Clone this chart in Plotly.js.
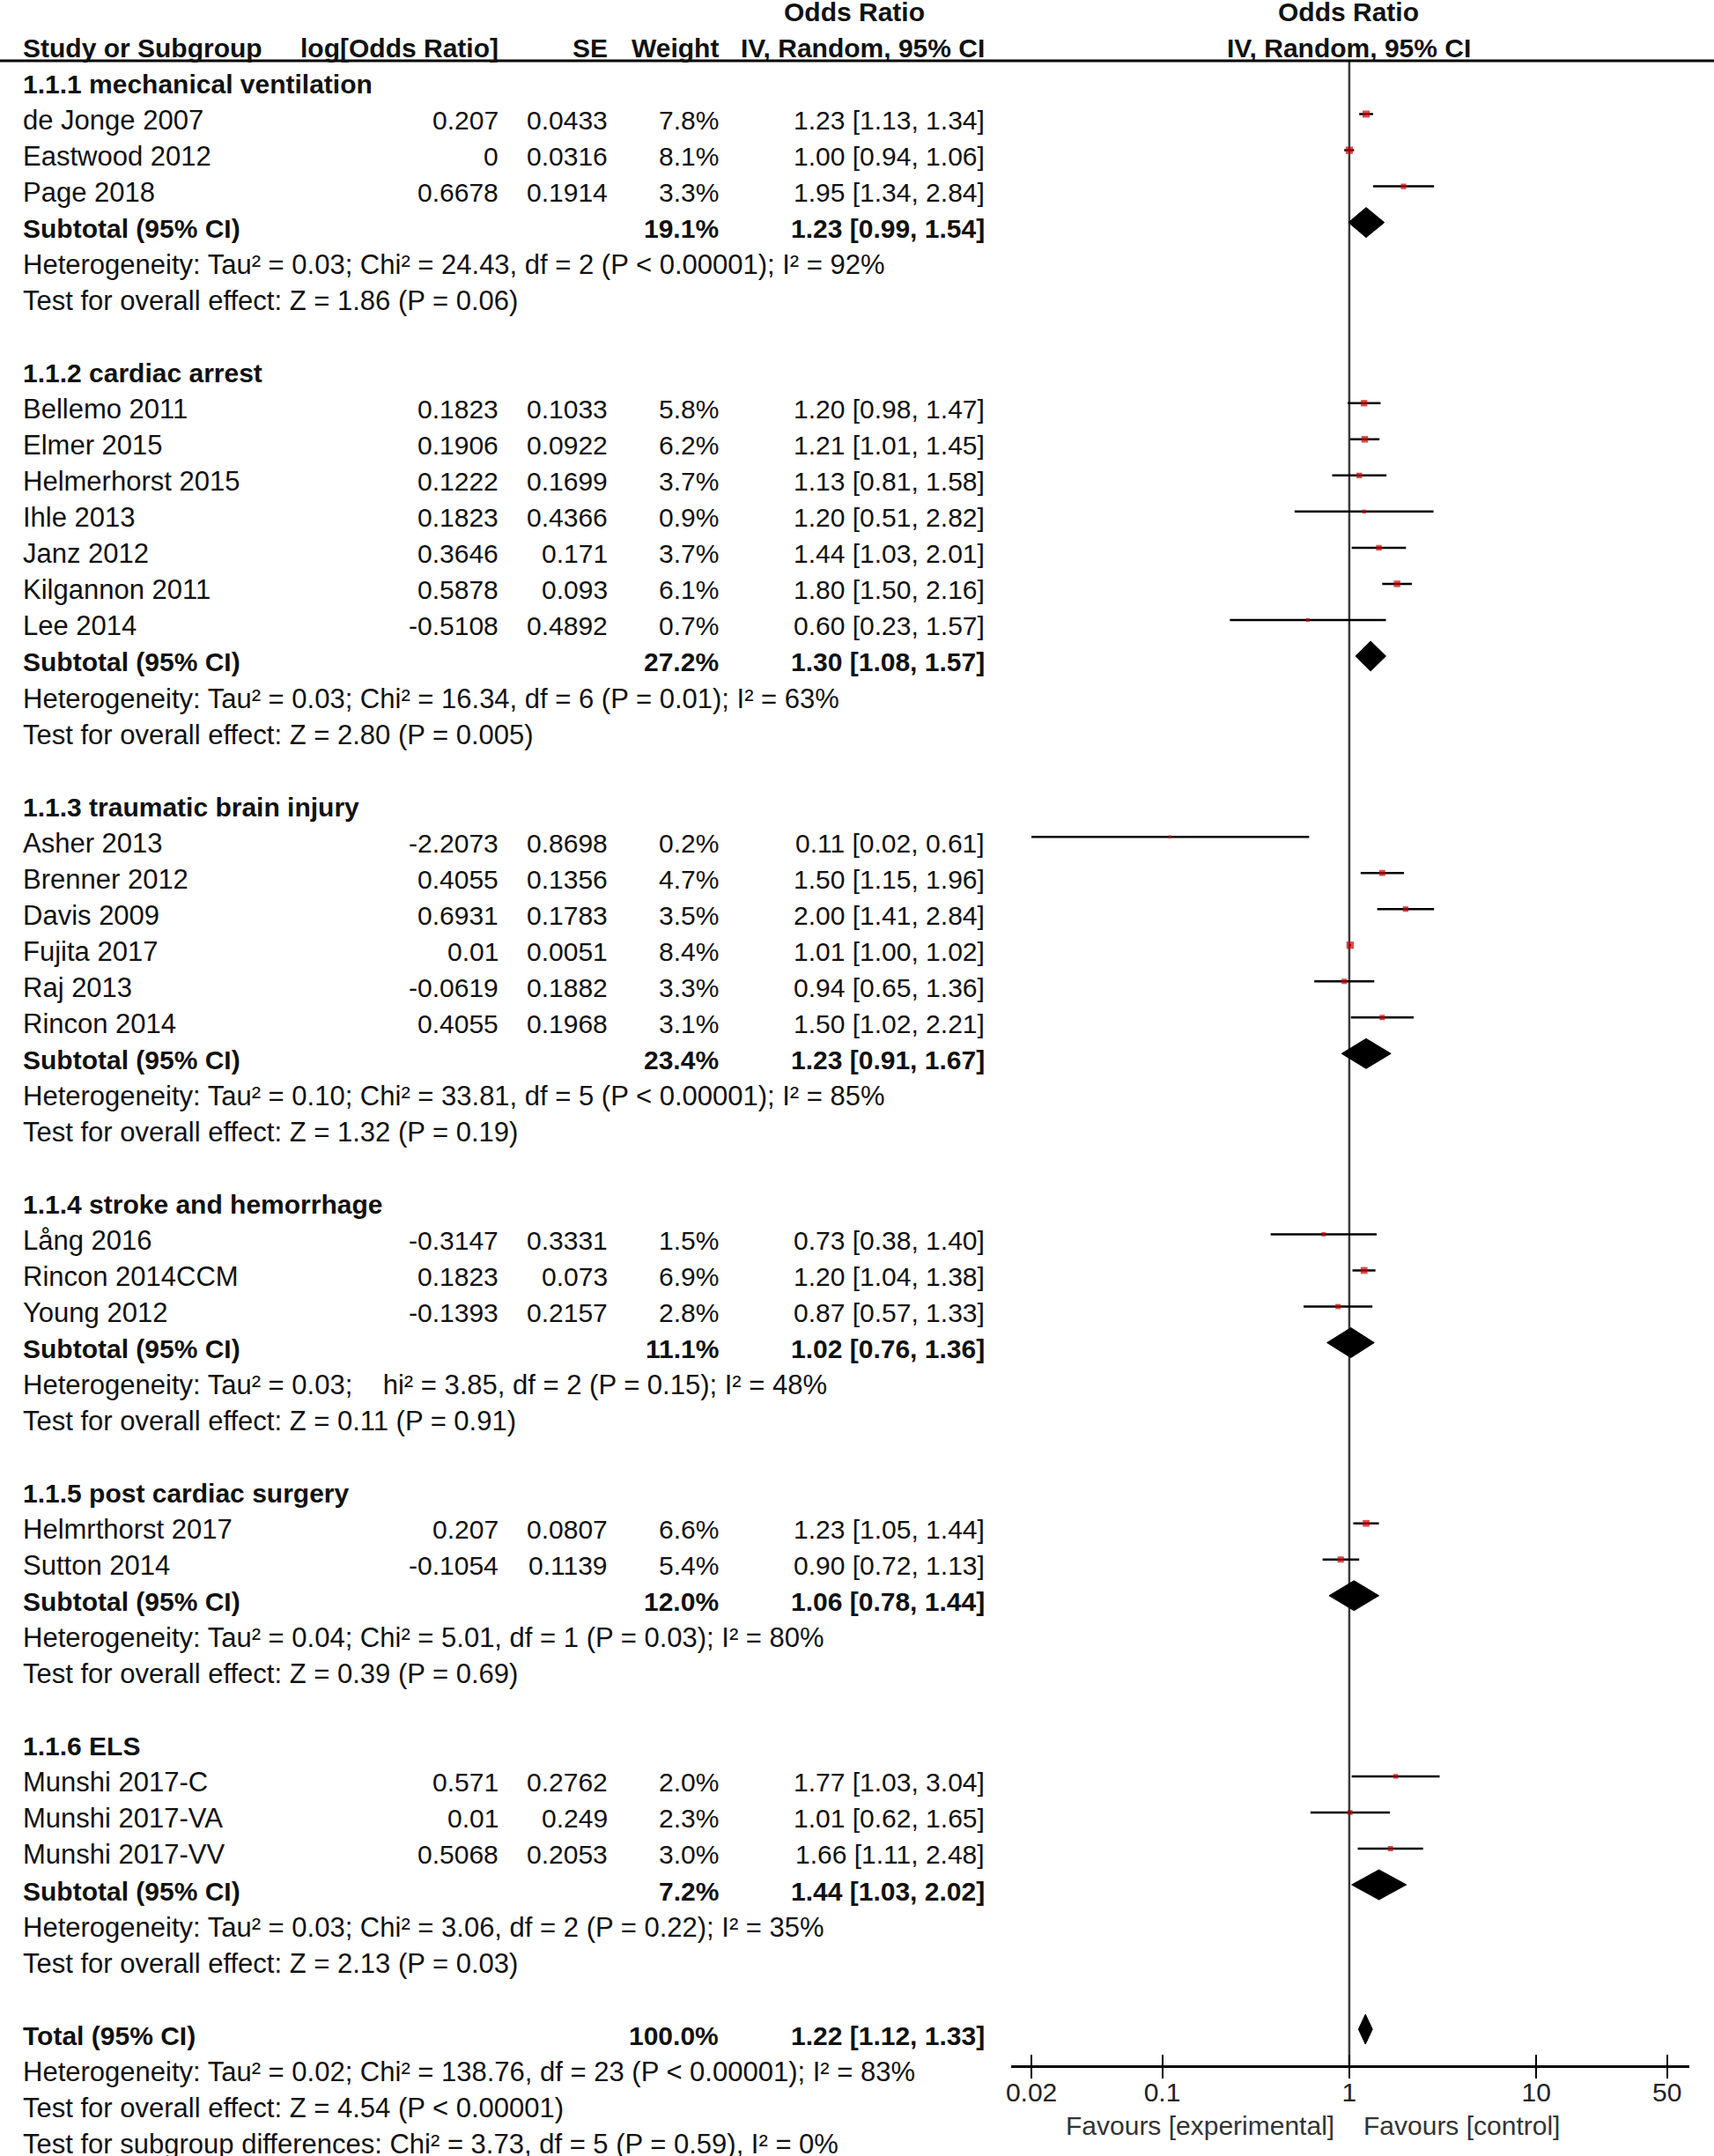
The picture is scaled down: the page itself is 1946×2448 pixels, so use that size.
<!DOCTYPE html>
<html>
<head>
<meta charset="utf-8">
<script src="https://cdn.plot.ly/plotly-3.0.1.min.js"></script>
<style>html,body{margin:0;padding:0;background:#fff;}#chart{width:1946px;height:2448px;}</style>
</head>
<body>
<div id="chart"></div>
<script>
// ---------------- DATA ----------------
const groupNames = ["1.1.1 mechanical ventilation", "1.1.2 cardiac arrest", "1.1.3 traumatic brain injury",
  "1.1.4 stroke and hemorrhage", "1.1.5 post cardiac surgery", "1.1.6 ELS"];

const studyNames = ["de Jonge 2007", "Eastwood 2012", "Page 2018",
  "Bellemo 2011", "Elmer 2015", "Helmerhorst 2015", "Ihle 2013", "Janz 2012", "Kilgannon 2011", "Lee 2014",
  "Asher 2013", "Brenner 2012", "Davis 2009", "Fujita 2017", "Raj 2013", "Rincon 2014",
  "Lång 2016", "Rincon 2014CCM", "Young 2012",
  "Helmrthorst 2017", "Sutton 2014",
  "Munshi 2017-C", "Munshi 2017-VA", "Munshi 2017-VV"];
const studyGroup = [0,0,0, 1,1,1,1,1,1,1, 2,2,2,2,2,2, 3,3,3, 4,4, 5,5,5];
const logOR = [0.207, 0, 0.6678,
  0.1823, 0.1906, 0.1222, 0.1823, 0.3646, 0.5878, -0.5108,
  -2.2073, 0.4055, 0.6931, 0.01, -0.0619, 0.4055,
  -0.3147, 0.1823, -0.1393,
  0.207, -0.1054,
  0.571, 0.01, 0.5068];
const seVals = [0.0433, 0.0316, 0.1914,
  0.1033, 0.0922, 0.1699, 0.4366, 0.171, 0.093, 0.4892,
  0.8698, 0.1356, 0.1783, 0.0051, 0.1882, 0.1968,
  0.3331, 0.073, 0.2157,
  0.0807, 0.1139,
  0.2762, 0.249, 0.2053];
const weights = [7.8, 8.1, 3.3,
  5.8, 6.2, 3.7, 0.9, 3.7, 6.1, 0.7,
  0.2, 4.7, 3.5, 8.4, 3.3, 3.1,
  1.5, 6.9, 2.8,
  6.6, 5.4,
  2.0, 2.3, 3.0];
const orVals = [1.23, 1.00, 1.95,
  1.20, 1.21, 1.13, 1.20, 1.44, 1.80, 0.60,
  0.11, 1.50, 2.00, 1.01, 0.94, 1.50,
  0.73, 1.20, 0.87,
  1.23, 0.90,
  1.77, 1.01, 1.66];
const ciLow = [1.13, 0.94, 1.34,
  0.98, 1.01, 0.81, 0.51, 1.03, 1.50, 0.23,
  0.02, 1.15, 1.41, 1.00, 0.65, 1.02,
  0.38, 1.04, 0.57,
  1.05, 0.72,
  1.03, 0.62, 1.11];
const ciHigh = [1.34, 1.06, 2.84,
  1.47, 1.45, 1.58, 2.82, 2.01, 2.16, 1.57,
  0.61, 1.96, 2.84, 1.02, 1.36, 2.21,
  1.40, 1.38, 1.33,
  1.44, 1.13,
  3.04, 1.65, 2.48];

const subWeight = [19.1, 27.2, 23.4, 11.1, 12.0, 7.2];
const subOR = [1.23, 1.30, 1.23, 1.02, 1.06, 1.44];
const subLow = [0.99, 1.08, 0.91, 0.76, 0.78, 1.03];
const subHigh = [1.54, 1.57, 1.67, 1.36, 1.44, 2.02];
const subHet = [
  "Heterogeneity: Tau² = 0.03; Chi² = 24.43, df = 2 (P &lt; 0.00001); I² = 92%",
  "Heterogeneity: Tau² = 0.03; Chi² = 16.34, df = 6 (P = 0.01); I² = 63%",
  "Heterogeneity: Tau² = 0.10; Chi² = 33.81, df = 5 (P &lt; 0.00001); I² = 85%",
  "Heterogeneity: Tau² = 0.03;\u00a0\u00a0\u00a0 hi² = 3.85, df = 2 (P = 0.15); I² = 48%",
  "Heterogeneity: Tau² = 0.04; Chi² = 5.01, df = 1 (P = 0.03); I² = 80%",
  "Heterogeneity: Tau² = 0.03; Chi² = 3.06, df = 2 (P = 0.22); I² = 35%"];
const subTest = [
  "Test for overall effect: Z = 1.86 (P = 0.06)",
  "Test for overall effect: Z = 2.80 (P = 0.005)",
  "Test for overall effect: Z = 1.32 (P = 0.19)",
  "Test for overall effect: Z = 0.11 (P = 0.91)",
  "Test for overall effect: Z = 0.39 (P = 0.69)",
  "Test for overall effect: Z = 2.13 (P = 0.03)"];

const totalWeight = 100.0;
const totalOR = 1.22, totalLow = 1.12, totalHigh = 1.33;
const totalLines = [
  "Heterogeneity: Tau² = 0.02; Chi² = 138.76, df = 23 (P &lt; 0.00001); I² = 83%",
  "Test for overall effect: Z = 4.54 (P &lt; 0.00001)",
  "Test for subgroup differences: Chi² = 3.73, df = 5 (P = 0.59), I² = 0%"];

const headerCols = ["Study or Subgroup", "log[Odds Ratio]", "SE", "Weight", "IV, Random, 95% CI"];
const headerTop = "Odds Ratio";
const tickVals = [0.02, 0.1, 1, 10, 50];
const tickText = ["0.02", "0.1", "1", "10", "50"];
const favoursLeft = "Favours [experimental]";
const favoursRight = "Favours [control]";

// ---------------- LAYOUT CONSTANTS ----------------
const W = 1946, H = 2448;
const FONT = "'Liberation Sans', Arial, Helvetica, sans-serif";
const FS_NUM = 30, FS_TXT = 31;
const TXT = "#111111";
const colName = 24, colLog = 568, colSE = 692, colW = 818, colCI = 1120, colORcenter = 970, forestCenter = 1531;
const textShift = -7;
const rowPx = 41.03, row0Px = 88.5;
const plotTopPx = 69, plotBotPx = 2345;
const yTop = (plotTopPx - row0Px) / rowPx, yBot = (plotBotPx - row0Px) / rowPx;
const diamondHalf = 17 / rowPx;
const rowToPaper = r => (H - (row0Px + rowPx * r)) / H;

const annotations = [];
function ann(text, xpx, row, anchor, bold, size) {
  annotations.push({
    text: bold ? "<b>" + text + "</b>" : text,
    xref: "paper", yref: "paper", x: xpx / W, y: rowToPaper(row),
    xanchor: anchor, yanchor: "middle", yshift: textShift,
    showarrow: false, font: {family: FONT, size: size || FS_NUM, color: TXT}
  });
}
const fmt2 = v => v.toFixed(2);
const ciStr = (o, l, h) => fmt2(o) + " [" + fmt2(l) + ", " + fmt2(h) + "]";

// headers
ann(headerTop, colORcenter, -2, "center", true);
ann(headerTop, forestCenter, -2, "center", true);
ann(headerCols[0], colName, -1, "left", true);
ann(headerCols[1], colLog, -1, "right", true);
ann(headerCols[2], colSE, -1, "right", true);
ann(headerCols[3], colW, -1, "right", true);
ann(headerCols[4], colCI, -1, "right", true);
ann(headerCols[4], forestCenter, -1, "center", true);

// rows
const ciX = [], ciY = [], sqX = [], sqY = [], sqS = [], dmX = [], dmY = [];
function diamond(o, l, h, r) {
  dmX.push(l, o, h, o, l, null);
  dmY.push(r, r - diamondHalf, r, r + diamondHalf, r, null);
}
let row = 0;
groupNames.forEach((g, gi) => {
  ann(g, colName, row, "left", true); row++;
  studyNames.forEach((s, si) => {
    if (studyGroup[si] !== gi) return;
    ann(s, colName, row, "left", false, FS_TXT);
    ann(String(logOR[si]), colLog, row, "right", false);
    ann(String(seVals[si]), colSE, row, "right", false);
    ann(weights[si].toFixed(1) + "%", colW, row, "right", false);
    ann(ciStr(orVals[si], ciLow[si], ciHigh[si]), colCI, row, "right", false);
    ciX.push(ciLow[si], ciHigh[si], null); ciY.push(row, row, null);
    sqX.push(orVals[si]); sqY.push(row); sqS.push(2.5 + 2 * Math.sqrt(weights[si]));
    row++;
  });
  ann("Subtotal (95% CI)", colName, row, "left", true);
  ann(subWeight[gi].toFixed(1) + "%", colW, row, "right", true);
  ann(ciStr(subOR[gi], subLow[gi], subHigh[gi]), colCI, row, "right", true);
  diamond(subOR[gi], subLow[gi], subHigh[gi], row);
  row++;
  ann(subHet[gi], colName, row, "left", false, FS_TXT); row++;
  ann(subTest[gi], colName, row, "left", false, FS_TXT); row++;
  row++;
});
ann("Total (95% CI)", colName, row, "left", true);
ann(totalWeight.toFixed(1) + "%", colW, row, "right", true);
ann(ciStr(totalOR, totalLow, totalHigh), colCI, row, "right", true);
diamond(totalOR, totalLow, totalHigh, row);
row++;
totalLines.forEach(t => { ann(t, colName, row, "left", false, FS_TXT); row++; });

// favours labels (annotation x on a log axis is given as log10)
annotations.push({text: favoursLeft, xref: "x", yref: "paper", x: Math.log10(1), y: (H - 2413) / H,
  xanchor: "right", yanchor: "middle", xshift: -15, showarrow: false, font: {family: FONT, size: FS_NUM, color: "#333"}});
annotations.push({text: favoursRight, xref: "x", yref: "paper", x: Math.log10(1), y: (H - 2413) / H,
  xanchor: "left", yanchor: "middle", xshift: 14, showarrow: false, font: {family: FONT, size: FS_NUM, color: "#333"}});

const traces = [
  {x: [1, 1], y: [yTop, yBot], mode: "lines", line: {color: "#3a3a3a", width: 2.5}, hoverinfo: "skip", showlegend: false, cliponaxis: false},
  {x: ciX, y: ciY, mode: "lines", line: {color: "#000", width: 2.5}, hoverinfo: "skip", showlegend: false, cliponaxis: false},
  {x: sqX, y: sqY, mode: "markers", marker: {symbol: "square", color: "#cc0000", size: sqS, line: {width: 0}}, hoverinfo: "skip", showlegend: false},
  {x: dmX, y: dmY, mode: "lines", fill: "toself", fillcolor: "#000", line: {color: "#000", width: 1}, hoverinfo: "skip", showlegend: false, cliponaxis: false},
  {x: [1], y: [0], xaxis: "x2", yaxis: "y", mode: "markers", marker: {opacity: 0}, hoverinfo: "skip", showlegend: false}
];

const xRange = [-1.81, 1.816];
const xDomain = [1147.5 / W, 1917.6 / W];
const layout = {
  width: W, height: H,
  margin: {l: 0, r: 0, t: 0, b: 0},
  paper_bgcolor: "#fff", plot_bgcolor: "rgba(0,0,0,0)",
  showlegend: false,
  font: {family: FONT, size: FS_NUM, color: TXT},
  xaxis: {type: "log", range: xRange, domain: xDomain, anchor: "y",
    showline: true, linecolor: "#000", linewidth: 3, showgrid: false, zeroline: false,
    ticks: "outside", ticklen: 12, tickwidth: 2, tickcolor: "#000", ticklabelstandoff: -10,
    tickvals: tickVals, ticktext: tickText, tickfont: {family: FONT, size: FS_NUM, color: "#222"}, fixedrange: true},
  xaxis2: {type: "log", range: xRange, domain: xDomain, anchor: "y", overlaying: "x",
    showline: false, showgrid: false, zeroline: false, showticklabels: false,
    ticks: "inside", ticklen: 12, tickwidth: 2, tickcolor: "#000", tickvals: tickVals, fixedrange: true},
  yaxis: {range: [yBot, yTop], domain: [(H - plotBotPx) / H, (H - plotTopPx) / H],
    visible: false, showgrid: false, zeroline: false, fixedrange: true},
  shapes: [{type: "line", xref: "paper", yref: "paper", x0: 0, x1: 1,
    y0: (H - plotTopPx) / H, y1: (H - plotTopPx) / H, line: {color: "#000", width: 3}}],
  annotations: annotations
};
Plotly.newPlot("chart", traces, layout, {displayModeBar: false, staticPlot: true});
</script>
</body>
</html>
